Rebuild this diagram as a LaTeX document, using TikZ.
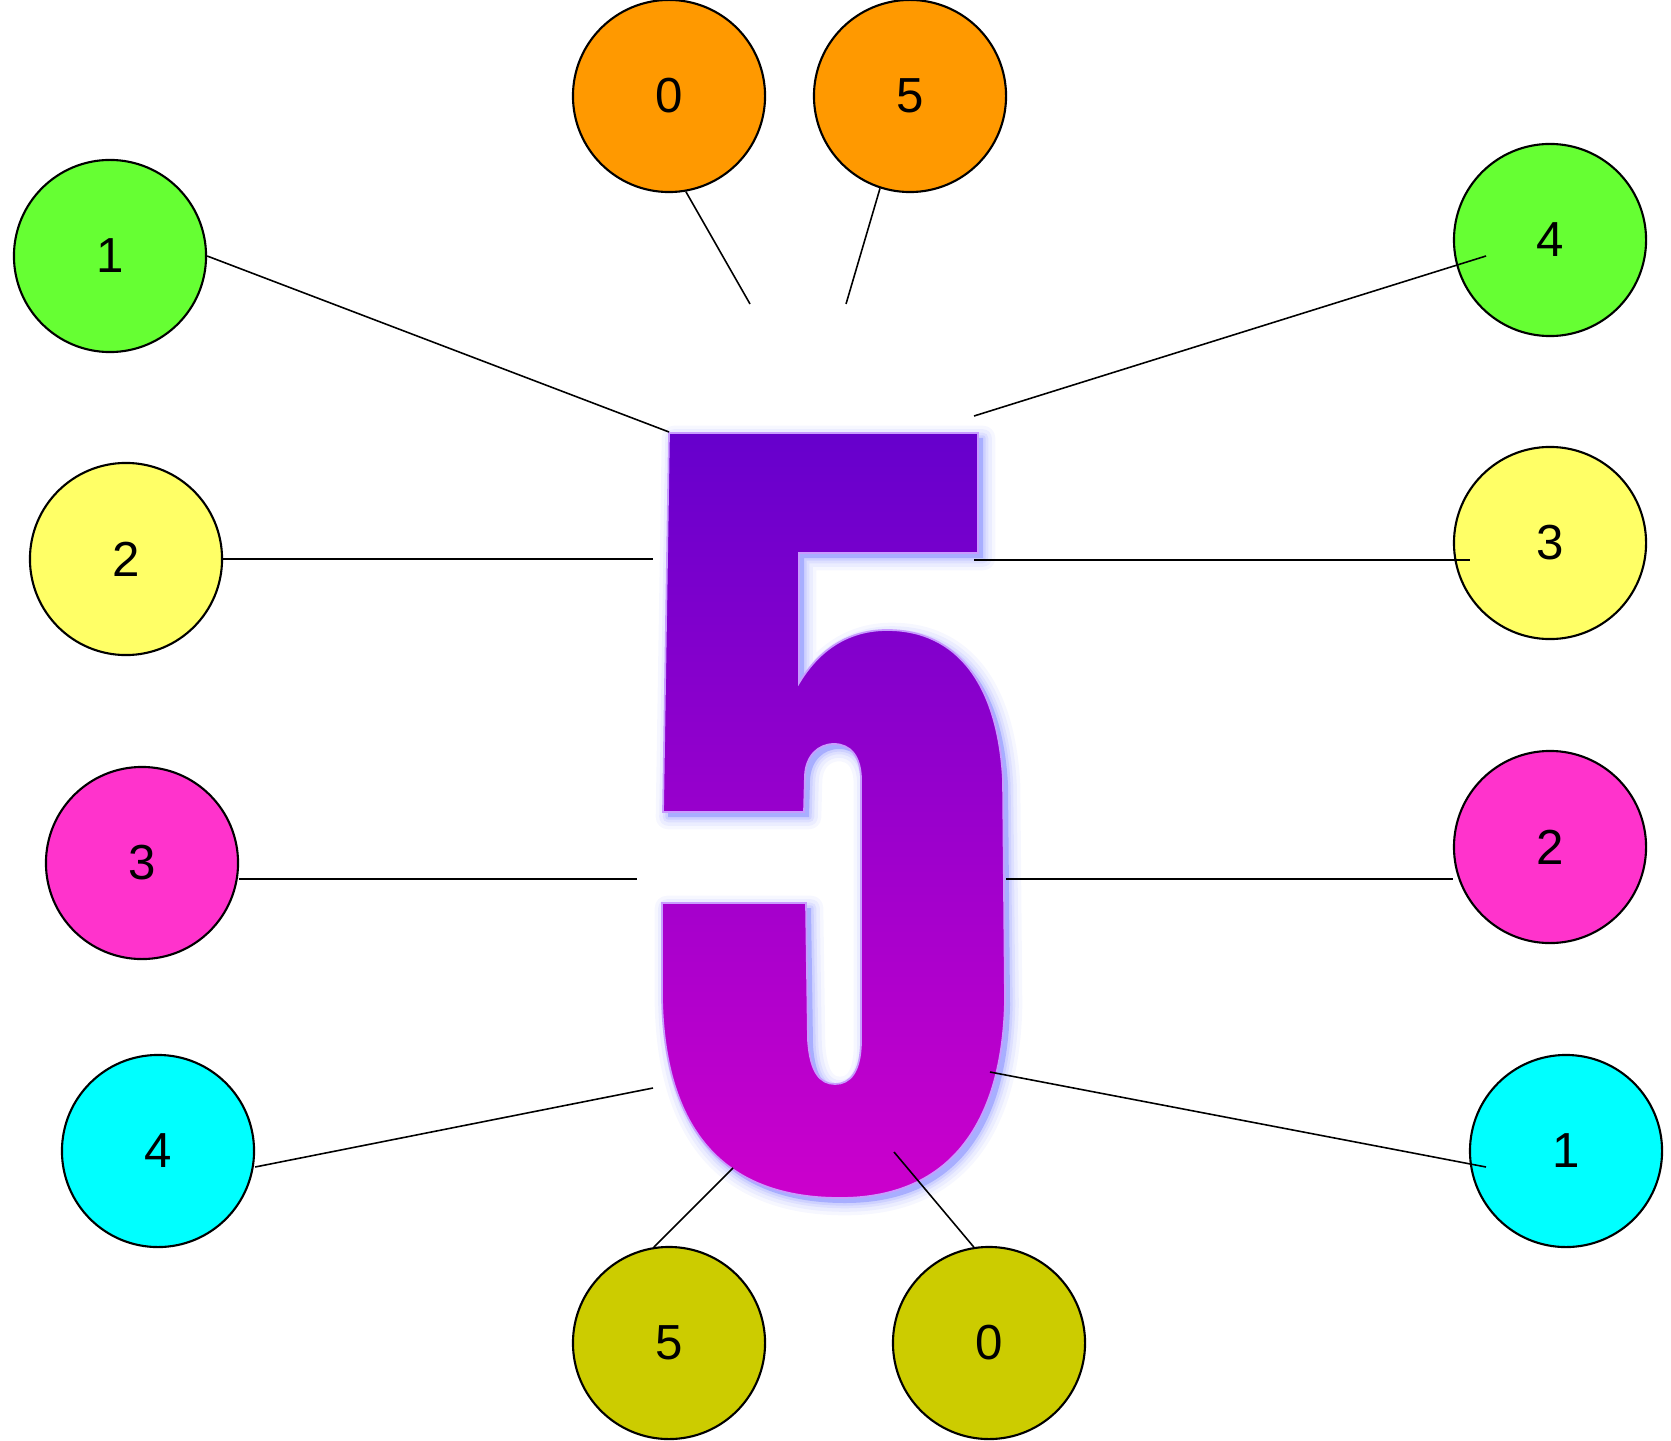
\documentclass[tikz,border=0pt]{standalone}
\usepackage{fontspec}
\setmainfont{Liberation Sans}
\usepackage{tikz}
\usetikzlibrary{positioning, calc}
\definecolor{ballorange}{HTML}{FF9900}
\definecolor{ballgreen}{HTML}{66FF33}
\definecolor{ballyellow}{HTML}{FFFF66}
\definecolor{ballpink}{HTML}{FF33CC}
\definecolor{ballcyan}{HTML}{00FFFF}
\definecolor{ballolive}{HTML}{CCCC00}
\definecolor{fivetop}{HTML}{6600CC}
\definecolor{fivebottom}{HTML}{CC00CC}
\definecolor{fiveglow}{HTML}{A8AEFF}
\definecolor{fiveedge}{HTML}{C89CFF}
\tikzstyle{ball} = [circle, draw, line width=0.6pt, minimum size=1.92cm, inner sep=0pt, font=\fontsize{14}{16}\selectfont]
\tikzstyle{link} = [draw, line width=0.45pt]
\newcommand{\bigfive}{(669,433) -- (978,433) -- (978,553) -- (799,553) -- (799,683) .. controls (820,648) and (850,630) .. (887,630) .. controls (958,630) and (998,685) .. (1003,780) -- (1005,1000) .. controls (1003,1110) and (960,1198) .. (840,1198) .. controls (715,1198) and (665,1120) .. (662,1000) -- (662,903) -- (806,903) -- (808,1040) .. controls (810,1072) and (820,1084) .. (835,1084) .. controls (850,1084) and (861,1072) .. (861,1040) -- (861,780) .. controls (861,756) and (850,744) .. (834,744) .. controls (818,744) and (806,756) .. (805,775) -- (804,812) -- (663,812) -- cycle}

\begin{document}
\begin{tikzpicture}[x=0.01cm, y=-0.01cm]
        \useasboundingbox (0,0) rectangle (1671,1440);

        \foreach \w/\o in {7pt/0.1, 5pt/0.14, 3pt/0.2, 1.5pt/0.3}
            \draw [shift={(5,5)}, fiveglow, line width=\w, opacity=\o, line join=round] \bigfive;
        \fill [shift={(5,5)}, fiveglow] \bigfive;
        \shade [top color=fivetop, bottom color=fivebottom] \bigfive;
        \draw [fiveedge, line width=0.5pt] \bigfive;

        \node [ball, fill=ballorange] (top0) at (669,96) {0};
        \node [ball, fill=ballorange] (top5) at (910,96) {5};
        \node [ball, fill=ballgreen] (left1) at (110,256) {1};
        \node [ball, fill=ballgreen] (right4) at (1550,240) {4};
        \node [ball, fill=ballyellow] (left2) at (126,559) {2};
        \node [ball, fill=ballyellow] (right3) at (1550,543) {3};
        \node [ball, fill=ballpink] (left3) at (142,863) {3};
        \node [ball, fill=ballpink] (right2) at (1550,847) {2};
        \node [ball, fill=ballcyan] (left4) at (158,1151) {4};
        \node [ball, fill=ballcyan] (right1) at (1566,1151) {1};
        \node [ball, fill=ballolive] (bot5) at (669,1343) {5};
        \node [ball, fill=ballolive] (bot0) at (989,1343) {0};

        \coordinate (top0end) at (750,304);
        \coordinate (top5end) at (846,304);
        \coordinate (left1end) at (669,432);
        \coordinate (right4end) at (974,416);
        \coordinate (right4in) at (1486,256);
        \coordinate (left2end) at (653,559);
        \coordinate (right3end) at (974,560);
        \coordinate (right3in) at (1470,560);
        \coordinate (left3end) at (637,879);
        \coordinate (right2end) at (1006,879);
        \coordinate (left4end) at (653,1088);
        \coordinate (right1end) at (990,1072);
        \coordinate (right1in) at (1486,1167);
        \coordinate (bot5end) at (733,1168);
        \coordinate (bot0end) at (894,1152);

        \path [link] (top0.-80) -- (top0end);
        \path [link] (top5.-108) -- (top5end);
        \path [link] (left1.east) -- (left1end);
        \path [link] (right4in) -- (right4end);
        \path [link] (left2.east) -- (left2end);
        \path [link] (right3end) -- (right3in);
        \path [link] ($(left3.east)+(0,16)$) -- (left3end);
        \path [link] (right2end) -- ($(right2.west)+(0,32)$);
        \path [link] ($(left4.east)+(0,16)$) -- (left4end);
        \path [link] (right1end) -- (right1in);
        \path [link] (bot5.99) -- (bot5end);
        \path [link] (bot0.99) -- (bot0end);
    \end{tikzpicture}
\end{document}
